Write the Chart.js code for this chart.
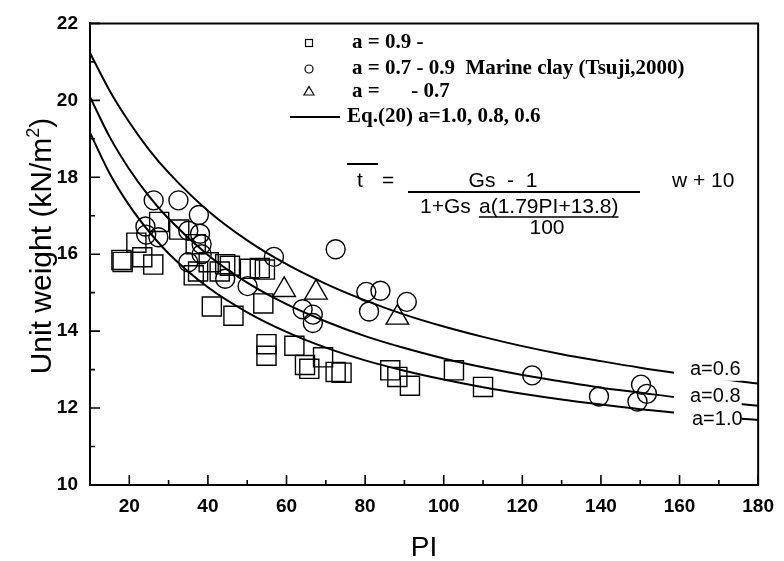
<!DOCTYPE html>
<html><head><meta charset="utf-8">
<script src="https://cdn.jsdelivr.net/npm/chart.js@4.4.0/dist/chart.umd.min.js"></script>
<style>html,body{margin:0;padding:0;background:#fff}</style>
</head><body>
<canvas id="c" width="784" height="561"></canvas>
<script>
// ---- axis ticks ----
const xMajor=[20,40,60,80,100,120,140,160,180];
const xMinor=[30,50,70,90,110,130,150,170];
const yMajor=[10,12,14,16,18,20,22];
const yMinor=[11,13,15,17,19,21];

// ---- curves (Eq.20) ----
const curvePI=[10,15,20,25,30,40,50,60,70,80,90,100,110,120,130,140,150,160,170,180];
const curveA10=[19.16,18.10,17.27,16.59,16.02,15.14,14.49,13.98,13.57,13.24,12.97,12.74,12.54,12.37,12.22,12.09,11.97,11.87,11.77,11.69];
const curveA08=[20.09,19.05,18.21,17.51,16.92,15.98,15.26,14.70,14.25,13.87,13.56,13.29,13.06,12.86,12.69,12.53,12.40,12.27,12.16,12.06];
const curveA06=[21.23,20.25,19.43,18.72,18.12,17.13,16.36,15.74,15.23,14.80,14.43,14.12,13.85,13.61,13.40,13.22,13.05,12.90,12.76,12.64];
const curveLabels=['a=1.0','a=0.8','a=0.6'];

// ---- measured points ----
const squarePI=[18.0,18.3,21.8,23.3,26.1,27.6,32.7,36.9,36.4,37.5,40.2,43.0,44.4,45.6,50.7,53.2,54.5,41.0,46.5,54.1,54.9,54.9,62.0,64.7,65.8,69.3,72.5,74.0,86.4,88.2,91.4,102.6,110.0];
const squareUW=[15.85,15.80,16.30,15.92,15.73,16.84,16.64,16.26,15.45,15.55,15.79,15.55,15.74,15.70,15.62,15.64,15.60,14.64,14.40,14.72,13.66,13.36,13.62,13.12,13.02,13.32,12.94,12.92,12.98,12.81,12.58,12.98,12.55];
const circlePI=[26.2,32.5,37.7,24.1,24.3,27.4,35.0,38.0,38.4,38.4,35.0,44.4,50.1,56.8,72.5,64.1,66.7,66.7,80.3,83.9,81.0,90.6,122.5,139.5,150.2,151.7,149.3];
const circleUW=[17.40,17.40,17.02,16.72,16.51,16.44,16.61,16.53,16.26,16.00,15.79,15.36,15.17,15.93,16.13,14.57,14.43,14.21,15.02,15.05,14.51,14.76,12.85,12.30,12.61,12.37,12.17];
const trianglePI=[59.4,67.5,88.2];
const triangleUW=[15.07,15.00,14.35];

const legendTexts=['a = 0.9 -','a = 0.7 - 0.9  Marine clay (Tsuji,2000)','a =      - 0.7','Eq.(20) a=1.0, 0.8, 0.6'];

const zip=(xs,ys)=>xs.map((x,i)=>({x:x,y:ys[i]}));
const SANS='"Liberation Sans", Arial, sans-serif';
const SERIF='"Liberation Serif", "Times New Roman", serif';

function curveDS(lbl,ys){return {label:lbl,data:zip(curvePI,ys),showLine:true,pointRadius:0,borderColor:'#000',borderWidth:2,cubicInterpolationMode:'monotone',fill:false};}
function markDS(lbl,xs,ys,style,r){return {label:lbl,data:zip(xs,ys),showLine:false,pointStyle:style,pointRadius:r,pointHoverRadius:r,pointBorderColor:'#000',pointBackgroundColor:'rgba(0,0,0,0)',pointBorderWidth:1.4,borderColor:'#000',backgroundColor:'rgba(0,0,0,0)'};}

const deco={
 id:'deco',
 afterDatasetsDraw(chart){
  const ctx=chart.ctx, a=chart.chartArea, xs=chart.scales.x, ys=chart.scales.y;
  ctx.save();
  // curve label boxes
  const curves=[curveA10,curveA08,curveA06];
  const offs=[3,-5,-9], lxs=[692,690,690];
  ctx.font='20px '+SANS; ctx.textBaseline='middle'; ctx.textAlign='left';
  const boxX0=xs.getPixelForValue(158.6), boxX1=xs.getPixelForValue(175.8);
  curves.forEach((c,i)=>{
    const yc=ys.getPixelForValue(c[c.length-2])+offs[i];
    ctx.fillStyle='#fff'; ctx.fillRect(boxX0,yc-11,boxX1-boxX0,22);
    ctx.fillStyle='#000'; ctx.fillText(curveLabels[i],lxs[i],yc);
  });
  // frame top/right
  ctx.strokeStyle='#000'; ctx.lineWidth=2;
  ctx.beginPath(); ctx.moveTo(a.left-1,a.top); ctx.lineTo(a.right,a.top); ctx.lineTo(a.right,a.bottom); ctx.stroke();
  // inward ticks
  ctx.lineWidth=1.6;
  ctx.beginPath();
  xMajor.forEach(v=>{const p=xs.getPixelForValue(v); ctx.moveTo(p,a.bottom); ctx.lineTo(p,a.bottom-10);});
  xMinor.forEach(v=>{const p=xs.getPixelForValue(v); ctx.moveTo(p,a.bottom); ctx.lineTo(p,a.bottom-5);});
  yMajor.forEach(v=>{const p=ys.getPixelForValue(v); ctx.moveTo(a.left,p); ctx.lineTo(a.left+10,p);});
  yMinor.forEach(v=>{const p=ys.getPixelForValue(v); ctx.moveTo(a.left,p); ctx.lineTo(a.left+5,p);});
  ctx.stroke();
  // legend
  const lx=309, rows=[43,69,92,117];
  ctx.lineWidth=1.2;
  ctx.strokeRect(lx-3.5,rows[0]-3.5,7,7);
  ctx.beginPath(); ctx.arc(lx,rows[1],4,0,Math.PI*2); ctx.stroke();
  ctx.beginPath(); ctx.moveTo(lx,rows[2]-5.5); ctx.lineTo(lx+5,rows[2]+3); ctx.lineTo(lx-5,rows[2]+3); ctx.closePath(); ctx.stroke();
  ctx.lineWidth=2; ctx.beginPath(); ctx.moveTo(290,rows[3]); ctx.lineTo(340,rows[3]); ctx.stroke();
  ctx.fillStyle='#000'; ctx.font='bold 21px '+SERIF; ctx.textBaseline='middle'; ctx.textAlign='left';
  ctx.fillText(legendTexts[0],352,rows[0]);
  ctx.fillText(legendTexts[1],352,rows[1]);
  ctx.fillText(legendTexts[2],352,rows[2]);
  ctx.fillText(legendTexts[3],347,rows[3]);
  // equation
  ctx.font='21px '+SANS;
  ctx.lineWidth=2;
  ctx.beginPath(); ctx.moveTo(347,164); ctx.lineTo(378,164); ctx.stroke();
  ctx.fillText('t',357,181);
  ctx.fillText('=',382,181);
  ctx.beginPath(); ctx.moveTo(408,192); ctx.lineTo(640,192); ctx.stroke();
  ctx.textAlign='center'; ctx.fillText('Gs  -  1',503,181);
  ctx.textAlign='left'; ctx.fillText('1+Gs',420,207);
  ctx.fillText('a(1.79PI+13.8)',479,207);
  const uw=ctx.measureText('a(1.79PI+13.8)').width;
  ctx.lineWidth=1.6; ctx.beginPath(); ctx.moveTo(479,217); ctx.lineTo(479+uw,217); ctx.stroke();
  ctx.textAlign='center'; ctx.fillText('100',547,228);
  ctx.textAlign='left'; ctx.fillText('w + 10',672,181);
  // axis titles
  const TF='30px '+SANS, SF='18px '+SANS;
  ctx.font=TF; ctx.textBaseline='alphabetic';
  ctx.save(); ctx.translate(51,246); ctx.rotate(-Math.PI/2);
  const t1='Unit weight (kN/m', t2=')';
  const w1=ctx.measureText(t1).width; ctx.font=SF; const ws=ctx.measureText('2').width; ctx.font=TF;
  const w2=ctx.measureText(t2).width; const tot=w1+ws+w2;
  ctx.textAlign='left';
  ctx.fillText(t1,-tot/2,0);
  ctx.font=SF; ctx.fillText('2',-tot/2+w1,-12);
  ctx.font=TF; ctx.fillText(t2,-tot/2+w1+ws,0);
  ctx.restore();
  ctx.font='28px '+SANS;
  ctx.textAlign='center'; ctx.fillText('PI',(a.left+a.right)/2,556);
  ctx.restore();
 }
};

new Chart(document.getElementById('c'),{
 type:'scatter',
 data:{datasets:[
  curveDS('a=1.0',curveA10),curveDS('a=0.8',curveA08),curveDS('a=0.6',curveA06),
  markDS(legendTexts[0],squarePI,squareUW,'rect',13.5),
  markDS(legendTexts[1],circlePI,circleUW,'circle',9.5),
  markDS(legendTexts[2],trianglePI,triangleUW,'triangle',13)
 ]},
 options:{
  responsive:false,animation:false,devicePixelRatio:1,
  layout:{padding:{top:15,right:19,left:0,bottom:0}},
  plugins:{legend:{display:false},tooltip:{enabled:false}},
  scales:{
   x:{type:'linear',min:10,max:180,
      afterBuildTicks:s=>{s.ticks=xMajor.map(v=>({value:v}));},
      afterFit:s=>{s.height=76;},
      grid:{display:true,drawOnChartArea:false,drawTicks:false},
      border:{display:true,color:'#000',width:2},
      ticks:{color:'#000',font:{family:SANS,size:19,weight:'bold'},padding:10,maxRotation:0,autoSkip:false}},
   y:{type:'linear',min:10,max:22,
      afterBuildTicks:s=>{s.ticks=yMajor.map(v=>({value:v}));},
      afterFit:s=>{s.width=90;},
      grid:{display:true,drawOnChartArea:false,drawTicks:false},
      border:{display:true,color:'#000',width:2},
      ticks:{color:'#000',font:{family:SANS,size:19,weight:'bold'},padding:12,autoSkip:false}}
  }
 },
 plugins:[deco]
});
</script>
</body></html>
